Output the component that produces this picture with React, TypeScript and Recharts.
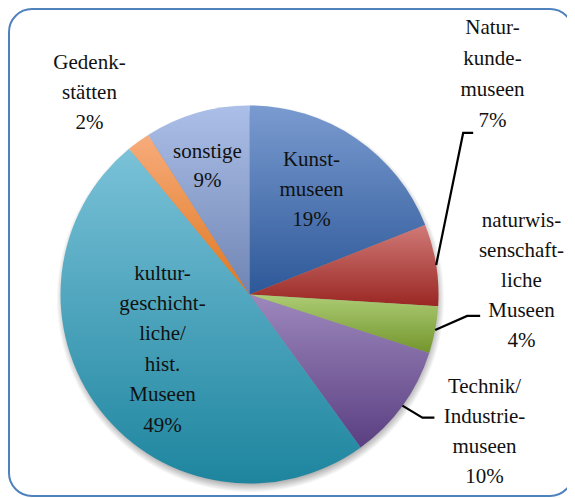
import React from 'react';
import { PieChart, Pie, Cell } from 'recharts';

const categories = [
  'Kunstmuseen',
  'Naturkundemuseen',
  'naturwissenschaftliche Museen',
  'Technik/Industriemuseen',
  'kulturgeschichtliche/hist. Museen',
  'Gedenkstätten',
  'sonstige',
];
const shares = [19, 7, 4, 10, 49, 2, 9];
const labelLines = [
  ['Kunst-', 'museen', '19%'],
  ['Natur-', 'kunde-', 'museen', '7%'],
  ['naturwis-', 'senschaft-', 'liche', 'Museen', '4%'],
  ['Technik/', 'Industrie-', 'museen', '10%'],
  ['kultur-', 'geschicht-', 'liche/', 'hist.', 'Museen', '49%'],
  ['Gedenk-', 'stätten', '2%'],
  ['sonstige', '9%'],
];

const data = categories.map((name, i) => ({ name, value: shares[i] }));

// gradient colors (top, bottom) per slice
const gradients = [
  ['#7a9bd0', '#2d5898'],
  ['#d07a77', '#9a2723'],
  ['#adcc75', '#73952c'],
  ['#9d88bd', '#5a3f81'],
  ['#7ac2d8', '#1e859f'],
  ['#f7ac7c', '#df771e'],
  ['#abbfe8', '#7085b3'],
];

// label layout relative to pie centre; leader offsets relative to slice edge point
const labelLayout: any[] = [
  { dx: 62, dy: -129, lh: 30 },
  { dx: 243, dy: -261, lh: 31, leader: [[27, -132], [37, -132]] },
  { dx: 272, dy: -68, lh: 30, leader: [[32, -14], [45, -14]] },
  { dx: 235, dy: 98, lh: 30, leader: [[20, 12], [32, 12]] },
  { dx: -87, dy: -15, lh: 30.4 },
  { dx: -160, dy: -226, lh: 30 },
  { dx: -42, dy: -137, lh: 29 },
];

const RAD = Math.PI / 180;
const FONT = 'Liberation Serif, Times New Roman, Noto Serif, DejaVu Serif';

const renderLabel = (props: any) => {
  const { cx, cy, midAngle, outerRadius, index } = props;
  const lay = labelLayout[index];
  const lines = labelLines[index];
  const ex = cx + outerRadius * Math.cos(-midAngle * RAD);
  const ey = cy + outerRadius * Math.sin(-midAngle * RAD);
  const leader = lay.leader;
  return (
    <g key={`lbl-${index}`}>
      {leader && (
        <polyline
          points={`${ex},${ey} ${ex + leader[0][0]},${ey + leader[0][1]} ${ex + leader[1][0]},${ey + leader[1][1]}`}
          fill="none"
          stroke="#000"
          strokeWidth={2.2}
        />
      )}
      {lines.map((l: string, i: number) => (
        <text
          key={i}
          x={cx + lay.dx}
          y={cy + lay.dy + i * lay.lh}
          textAnchor="middle"
          fontFamily={FONT}
          fontSize={21}
          fill="#111"
        >
          {l}
        </text>
      ))}
    </g>
  );
};

const shadowData = [{ name: 'shadow', value: 1 }];

export default function App() {
  return (
    <div
      style={{
        width: 566,
        height: 489,
        border: '2.5px solid #4f81bd',
        borderRadius: 24,
        boxSizing: 'border-box',
        background: '#fff',
        fontFamily: FONT,
      }}
    >
      <PieChart width={561} height={484} margin={{ top: 0, right: 0, bottom: 0, left: 0 }}>
        <defs>
          {gradients.map((g, i) => (
            <linearGradient key={i} id={`grad${i}`} x1="0" y1="0" x2="0" y2="1">
              <stop offset="0%" stopColor={g[0]} />
              <stop offset="100%" stopColor={g[1]} />
            </linearGradient>
          ))}
          <radialGradient id="shadowGrad" cx="0.5" cy="0.5" r="0.5">
            <stop offset="0%" stopColor="#000" stopOpacity={0.45} />
            <stop offset="94%" stopColor="#000" stopOpacity={0.4} />
            <stop offset="100%" stopColor="#000" stopOpacity={0} />
          </radialGradient>
        </defs>
        <Pie
          data={shadowData}
          dataKey="value"
          cx={240.5}
          cy={288.5}
          outerRadius={194}
          startAngle={90}
          endAngle={-270}
          stroke="none"
          isAnimationActive={false}
        >
          <Cell fill="url(#shadowGrad)" />
        </Pie>
        <Pie
          data={data}
          dataKey="value"
          nameKey="name"
          cx={239.5}
          cy={284.5}
          outerRadius={189}
          startAngle={90}
          endAngle={-270}
          stroke="none"
          isAnimationActive={false}
          labelLine={false}
          label={renderLabel}
        >
          {data.map((d, i) => (
            <Cell key={d.name} fill={`url(#grad${i})`} />
          ))}
        </Pie>
      </PieChart>
    </div>
  );
}
